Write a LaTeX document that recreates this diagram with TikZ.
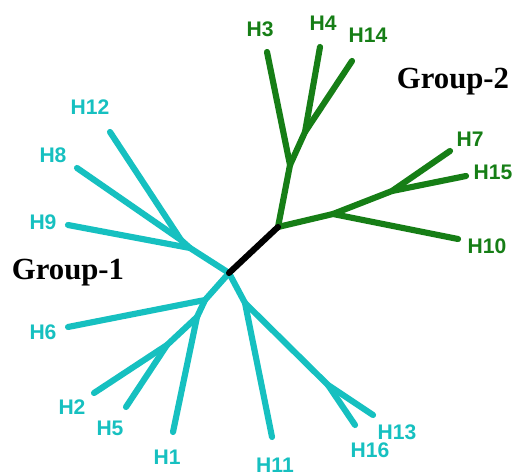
\documentclass[tikz,border=0pt]{standalone}
\usepackage{fontspec}
\setmainfont{Liberation Serif}
\setsansfont{Liberation Sans}
\definecolor{grpone}{RGB}{22,192,192}
\definecolor{grptwo}{RGB}{22,126,22}

\begin{document}
\begin{tikzpicture}[x=0.02cm,y=-0.02cm,
  branch/.style={line width=3.5pt, line cap=round, line join=round},
  leaf/.style={font=\sffamily\bfseries\fontsize{12}{14}\selectfont, inner sep=0pt},
  grp/.style={font=\bfseries\fontsize{17.5}{20}\selectfont, inner sep=0pt}]
  \useasboundingbox (0,0) rectangle (516,475);

  % inner points of the tree
  \coordinate (r1) at (229,273);
  \coordinate (r2) at (278,227);
  \coordinate (ga) at (290,165);
  \coordinate (gb) at (305,132);
  \coordinate (gc) at (333,214);
  \coordinate (gd) at (392,191);
  \coordinate (ce) at (190,248);
  \coordinate (ck) at (181,240);
  \coordinate (cf) at (205,300);
  \coordinate (cg) at (197,317);
  \coordinate (ch) at (167,345);
  \coordinate (ci) at (245,303);
  \coordinate (cj) at (328,385);

  % tips
  \coordinate (t3) at (267,52);
  \coordinate (t4) at (320,47);
  \coordinate (t14) at (352,61);
  \coordinate (t7) at (450,151);
  \coordinate (t15) at (466,176);
  \coordinate (t10) at (458,239);
  \coordinate (t12) at (110,132);
  \coordinate (t8) at (77,168);
  \coordinate (t9) at (68,225);
  \coordinate (t6) at (68,327);
  \coordinate (t2) at (94,393);
  \coordinate (t5) at (126,407);
  \coordinate (t1) at (173,432);
  \coordinate (t11) at (272,437);
  \coordinate (t16) at (355,425);
  \coordinate (t13) at (373,415);

  % group-2
  \draw[branch, grptwo] (r2) -- (ga) -- (t3);
  \draw[branch, grptwo] (ga) -- (gb) -- (t4);
  \draw[branch, grptwo] (gb) -- (t14);
  \draw[branch, grptwo] (r2) -- (gc) -- (t10);
  \draw[branch, grptwo] (gc) -- (gd) -- (t7);
  \draw[branch, grptwo] (gd) -- (t15);

  % group-1
  \draw[branch, grpone] (r1) -- (ce) -- (t9);
  \draw[branch, grpone] (ce) -- (ck) -- (t8);
  \draw[branch, grpone] (ck) -- (t12);
  \draw[branch, grpone] (r1) -- (cf) -- (t6);
  \draw[branch, grpone] (cf) -- (cg) -- (t1);
  \draw[branch, grpone] (cg) -- (ch) -- (t2);
  \draw[branch, grpone] (ch) -- (t5);
  \draw[branch, grpone] (r1) -- (ci) -- (t11);
  \draw[branch, grpone] (ci) -- (cj) -- (t13);
  \draw[branch, grpone] (cj) -- (t16);

  \draw[branch, black] (r1) -- (r2);

  % labels
  \node[name=H3, leaf, grptwo] at (260,29) {H3};
  \node[name=H4, leaf, grptwo] at (323,23) {H4};
  \node[name=H14, leaf, grptwo] at (368,35) {H14};
  \node[name=H7, leaf, grptwo] at (470,139) {H7};
  \node[name=H15, leaf, grptwo] at (493,172) {H15};
  \node[name=H10, leaf, grptwo] at (487,246) {H10};
  \node[name=H12, leaf, grpone] at (90,107) {H12};
  \node[name=H8, leaf, grpone] at (53,155) {H8};
  \node[name=H9, leaf, grpone] at (43,222) {H9};
  \node[name=H6, leaf, grpone] at (43,332) {H6};
  \node[name=H2, leaf, grpone] at (72,407) {H2};
  \node[name=H5, leaf, grpone] at (110,428) {H5};
  \node[name=H1, leaf, grpone] at (167,457) {H1};
  \node[name=H11, leaf, grpone] at (275,465) {H11};
  \node[name=H16, leaf, grpone] at (370,450) {H16};
  \node[name=H13, leaf, grpone] at (397,432) {H13};

  \node[name=G1, grp] at (68,273) {Group-1};
  \node[name=G2, grp] at (453,82) {Group-2};
\end{tikzpicture}
\end{document}
